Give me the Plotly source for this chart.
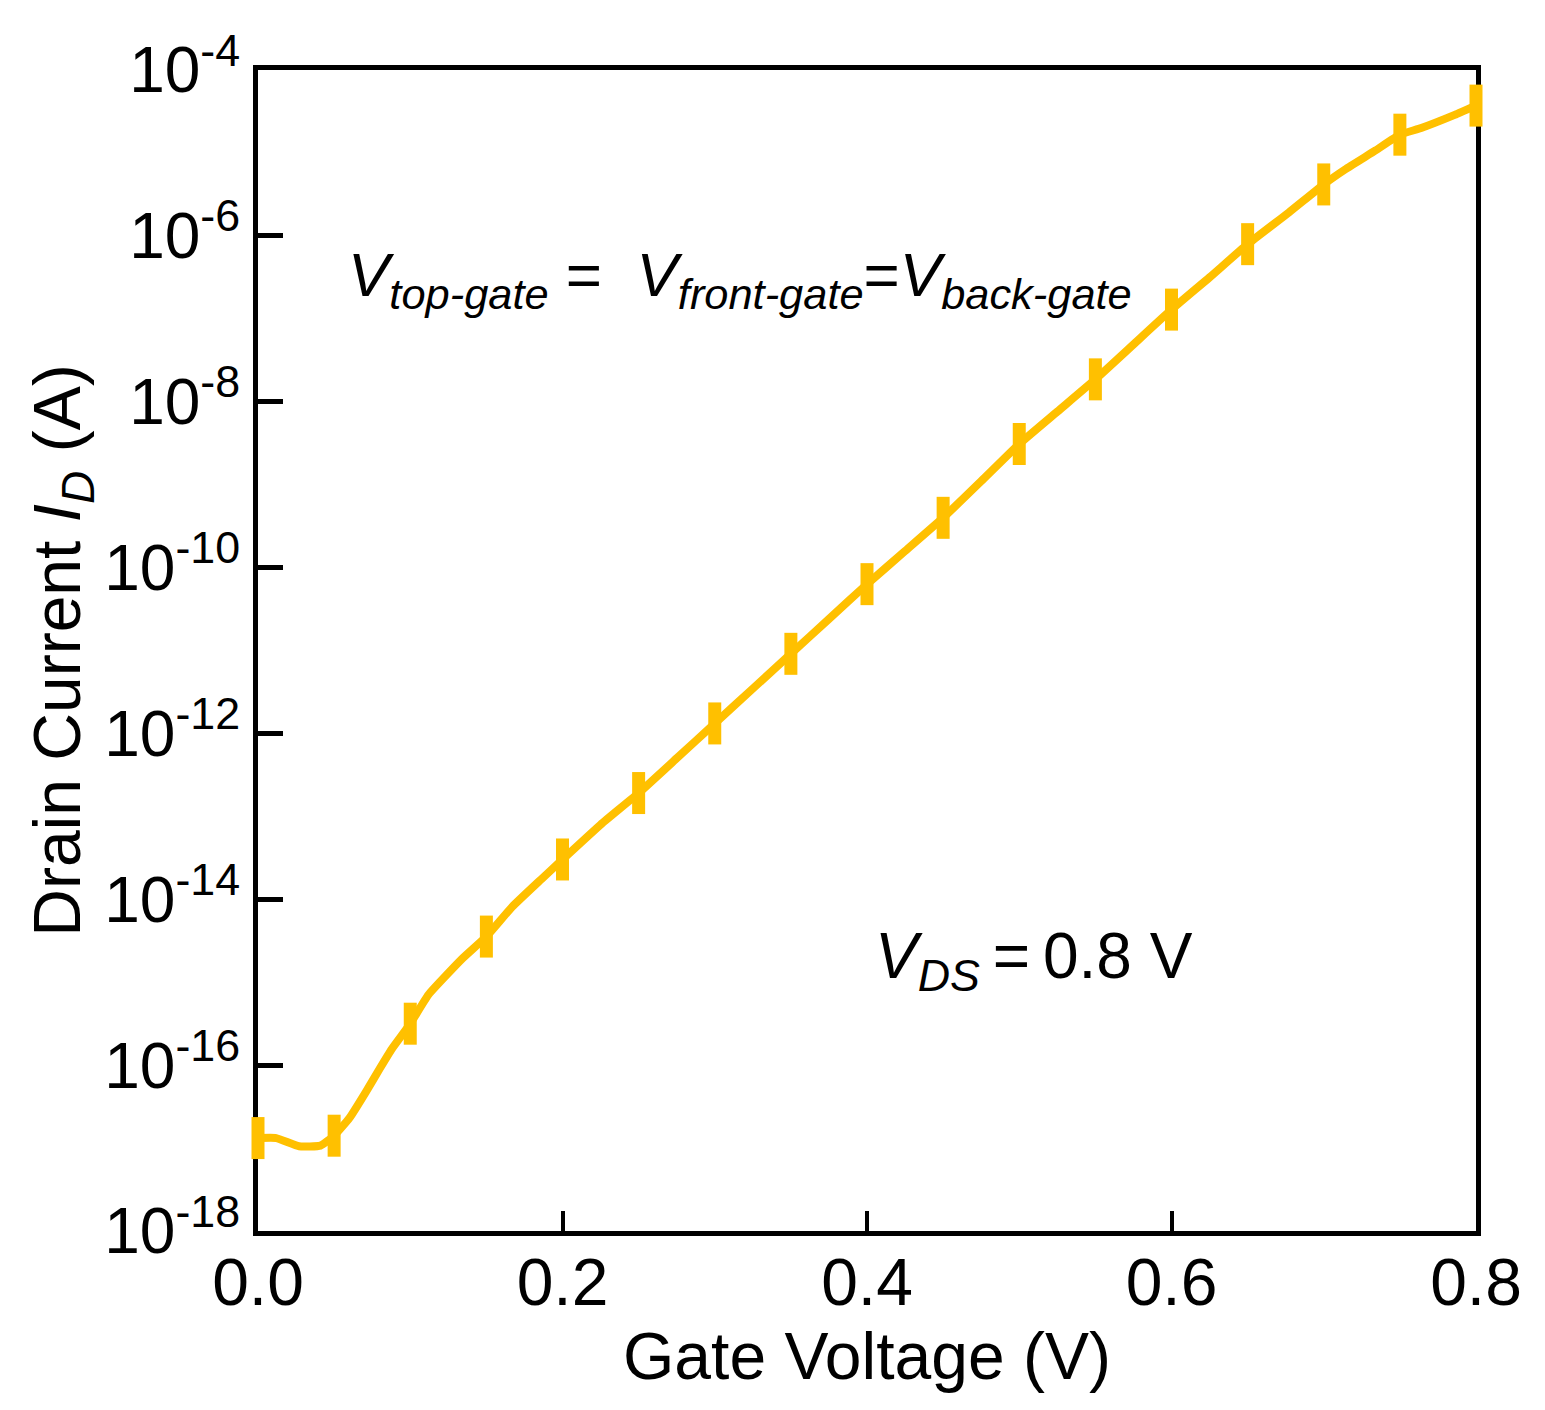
import plotly.graph_objects as go

# Transfer curve: gate voltage (V) and drain current (A)
gate_voltage = [0.000, 0.012, 0.027, 0.041, 0.050, 0.060, 0.071, 0.080, 0.088,
                0.100, 0.112, 0.134, 0.150, 0.167, 0.186, 0.200, 0.225, 0.250,
                0.275, 0.300, 0.325, 0.350, 0.375, 0.400, 0.425, 0.450, 0.475,
                0.500, 0.525, 0.550, 0.575, 0.600, 0.625, 0.650, 0.677, 0.700,
                0.714, 0.734, 0.750, 0.764, 0.786, 0.800]
drain_current = [1.32e-17, 1.32e-17, 1.05e-17, 1.07e-17, 1.41e-17, 2.29e-17,
                 4.79e-17, 9.12e-17, 1.58e-16, 3.16e-16, 7.08e-16, 1.91e-15,
                 3.55e-15, 8.13e-15, 1.74e-14, 3.02e-14, 7.94e-14, 1.91e-13,
                 5.01e-13, 1.32e-12, 3.47e-12, 9.12e-12, 2.40e-11, 6.31e-11,
                 1.58e-10, 3.98e-10, 1.10e-9, 3.09e-9, 7.59e-9, 1.86e-8,
                 4.90e-8, 1.29e-7, 3.16e-7, 7.94e-7, 1.91e-6, 4.17e-6,
                 6.31e-6, 1.07e-5, 1.66e-5, 2.00e-5, 2.88e-5, 3.72e-5]

# Marked sample points every 50 mV
marker_voltage = [0.00, 0.05, 0.10, 0.15, 0.20, 0.25, 0.30, 0.35, 0.40,
                  0.45, 0.50, 0.55, 0.60, 0.65, 0.70, 0.75, 0.80]
marker_current = [1.32e-17, 1.41e-17, 3.16e-16, 3.55e-15, 3.02e-14, 1.91e-13,
                  1.32e-12, 9.12e-12, 6.31e-11, 3.98e-10, 3.09e-9, 1.86e-8,
                  1.29e-7, 7.94e-7, 4.17e-6, 1.66e-5, 3.72e-5]

x_ticks = [0.0, 0.2, 0.4, 0.6, 0.8]
x_labels = ["0.0", "0.2", "0.4", "0.6", "0.8"]
y_ticks = [1e-18, 1e-16, 1e-14, 1e-12, 1e-10, 1e-8, 1e-6, 1e-4]
y_labels = ["10<sup>-18</sup>", "10<sup>-16</sup>", "10<sup>-14</sup>",
            "10<sup>-12</sup>", "10<sup>-10</sup>", "10<sup>-8</sup>",
            "10<sup>-6</sup>", "10<sup>-4</sup>"]

GOLD = "#FFC000"
FONT = "Liberation Sans"

fig = go.Figure()

fig.add_trace(go.Scatter(
    x=gate_voltage, y=drain_current,
    mode="lines",
    line=dict(color=GOLD, width=8, shape="spline", smoothing=0.4),
    cliponaxis=False,
    showlegend=False,
))

fig.add_trace(go.Scatter(
    x=marker_voltage, y=marker_current,
    mode="markers",
    marker=dict(symbol="line-ns", size=30, color=GOLD,
                line=dict(color=GOLD, width=13)),
    cliponaxis=False,
    showlegend=False,
))

fig.update_xaxes(
    range=[0, 0.8],
    tickvals=x_ticks, ticktext=x_labels,
    ticks="inside", ticklen=20, tickwidth=4, tickcolor="black",
    ticklabelstandoff=-10,
    showline=True, linecolor="black", linewidth=5, mirror=True,
    showgrid=False, zeroline=False, layer="below traces",
    tickfont=dict(family=FONT, size=66, color="black"),
    title=dict(text="Gate Voltage (V)", standoff=0,
               font=dict(family=FONT, size=66, color="black")),
)

fig.update_yaxes(
    type="log", range=[-18, -4],
    tickvals=y_ticks, ticktext=y_labels,
    ticks="inside", ticklen=25, tickwidth=5, tickcolor="black",
    showline=True, linecolor="black", linewidth=5, mirror=True,
    showgrid=False, zeroline=False, layer="below traces",
    tickfont=dict(family=FONT, size=64, color="black"),
    title=dict(text="Drain Current <i>I</i><sub><i>D</i></sub> (A)", standoff=0,
               font=dict(family=FONT, size=66, color="black")),
)

fig.add_annotation(
    x=0.072, y=0.82, xref="paper", yref="paper",
    xanchor="left", yanchor="middle", showarrow=False,
    text="<i>V</i><sub><i>top-gate</i></sub> =  <i>V</i><sub><i>front-gate</i></sub>"
         "=<i>V</i><sub><i>back-gate</i></sub>",
    font=dict(family=FONT, size=62, color="black"),
)

fig.add_annotation(
    x=0.505, y=0.233, xref="paper", yref="paper",
    xanchor="left", yanchor="middle", showarrow=False,
    text="<i>V</i><sub><i>DS</i></sub>&#8201;=&#8201;0.8 V",
    font=dict(family=FONT, size=64, color="black"),
)

fig.update_layout(
    width=1545, height=1410,
    margin=dict(l=250, r=77, t=62, b=187),
    paper_bgcolor="white", plot_bgcolor="white",
    font=dict(family=FONT, color="black"),
)

fig.write_html("out.html")
